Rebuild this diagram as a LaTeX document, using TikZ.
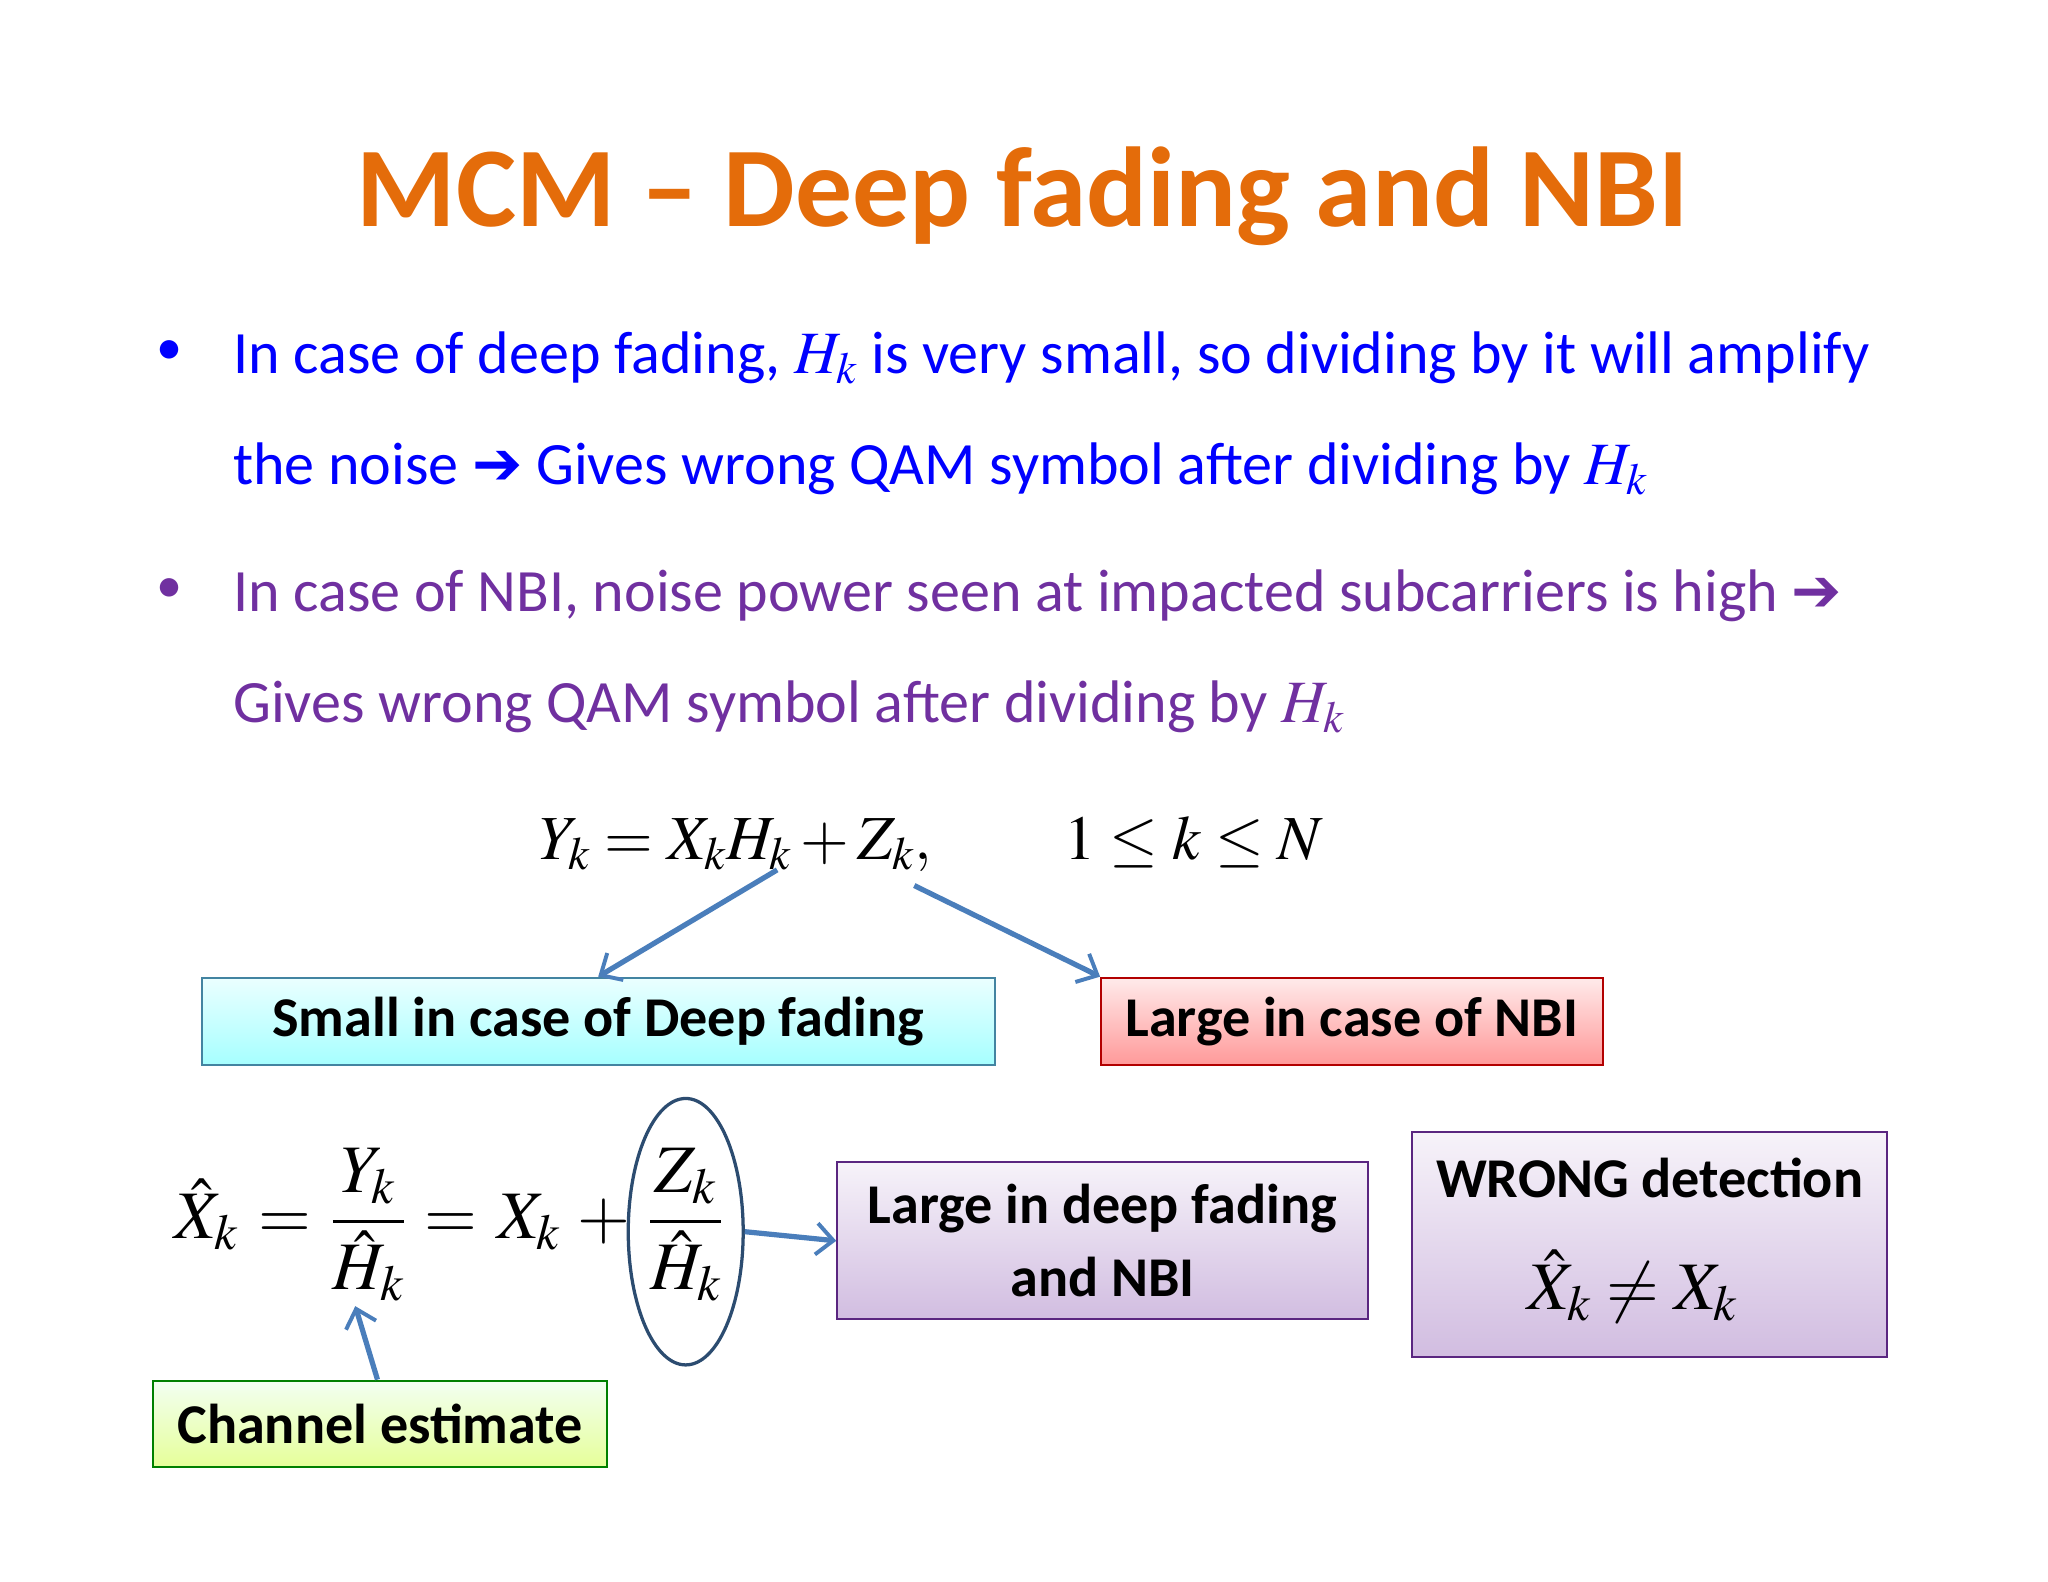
\documentclass[tikz,border=0pt]{standalone}
\usepackage{amsmath}
\usepackage{mathptmx}
\usepackage{fontspec}
\setmainfont{Carlito}
\usetikzlibrary{arrows.meta,shapes.geometric}
\definecolor{ttl}{HTML}{E46C0A}
\definecolor{bl}{HTML}{0000FF}
\definecolor{pu}{HTML}{7030A0}
\definecolor{arr}{HTML}{4A7EBB}
\tikzset{
 lbl/.style={font=\fontsize{43}{50}\selectfont\bfseries, inner sep=0pt},
 bul/.style={font=\fontsize{46}{52}\selectfont, anchor=base west},
 mth/.style={font=\fontsize{52}{58}\selectfont, anchor=base, inner sep=0pt},
 conn/.style={draw=arr, line width=4pt, -{Straight Barb[length=13pt,width=24pt,line width=3pt]}},
 bx/.style={line width=1.5pt},
}
\begin{document}
\begin{tikzpicture}[x=1pt,y=-1pt]
\useasboundingbox (0,0) rectangle (1568,1211);
\node[text=ttl, font=\fontsize{87}{96}\selectfont\bfseries] (title) at (783,150) {MCM -- Deep fading and NBI};
\node[text=bl, font=\fontsize{40}{46}\selectfont] (d1) at (130,270) {•};
\node[text=bl, bul] (b1a) at (175,286) {In case of deep fading, $H_k$ is very small, so dividing by it will amplify};
\node[text=bl, bul] (b1b) at (175,371) {the noise {\fontspec{DejaVu Sans}\bfseries ➔} Gives wrong QAM symbol after dividing by $H_k$};
\node[text=pu, font=\fontsize{40}{46}\selectfont] (d2) at (130,452) {•};
\node[text=pu, bul] (b2a) at (175,468) {In case of NBI, noise power seen at impacted subcarriers is high {\fontspec{DejaVu Sans}\bfseries ➔}};
\node[text=pu, bul] (b2b) at (175,553) {Gives wrong QAM symbol after dividing by $H_k$};
\node[font=\fontsize{48}{54}\selectfont, anchor=base west] (eq) at (410,658) {$Y_k = X_k H_k + Z_k,\qquad 1\le k\le N$};
\coordinate (h) at (595,666);
\coordinate (z) at (700,678);
\node[bx, draw=cyan!60!black, top color=cyan!8, bottom color=cyan!35, minimum width=607pt, minimum height=67pt, lbl] (sm) at (458,782) {Small in case of Deep fading};
\node[bx, draw=red!70!black, top color=red!8, bottom color=red!40, minimum width=384pt, minimum height=67pt, lbl] (lg) at (1035,782) {Large in case of NBI};
\draw[conn] (h) -- (sm.north);
\draw[conn] (z) -- (lg.north west);
\node[mth] (m1) at (158,948) {$\hat X_k$};
\node[mth] (m2) at (218,948) {$=$};
\node[mth] (m3) at (282,948) {$\dfrac{Y_k}{\hat H_k}$};
\node[mth] (m4) at (345,948) {$=$};
\node[mth] (m5) at (405,948) {$X_k$};
\node[mth] (m6) at (462,948) {$+$};
\node[mth] (m7) at (525,948) {$\dfrac{Z_k}{\hat H_k}$};
\node[draw=arr!60!black, line width=2.5pt, ellipse, minimum width=88pt, minimum height=204pt, inner sep=0pt] (ell) at (525,943) {};
\node[bx, draw=pu!80!black, top color=pu!6, bottom color=pu!32, minimum width=406pt, minimum height=120pt, align=center, lbl] (ld) at (844,950) {Large in deep fading\\[6pt]and NBI};
\draw[conn] (ell.east) -- (ld.west);
\node[bx, draw=pu!80!black, top color=pu!6, bottom color=pu!32, minimum width=364pt, minimum height=172pt] (wr) at (1263,953) {};
\node[lbl] (wt) at (1263,902) {WRONG detection};
\node[font=\fontsize{52}{58}\selectfont] (wm) at (1250,985) {$\hat X_k \ne X_k$};
\node[bx, draw=green!50!black, top color=green!5, bottom color=green!25!yellow!40, minimum width=347pt, minimum height=66pt, lbl] (ce) at (291,1090) {Channel estimate};
\coordinate (hh) at (272,1000);
\draw[conn] (ce.north) ++(-2,0) -- (hh);
\end{tikzpicture}
\end{document}
